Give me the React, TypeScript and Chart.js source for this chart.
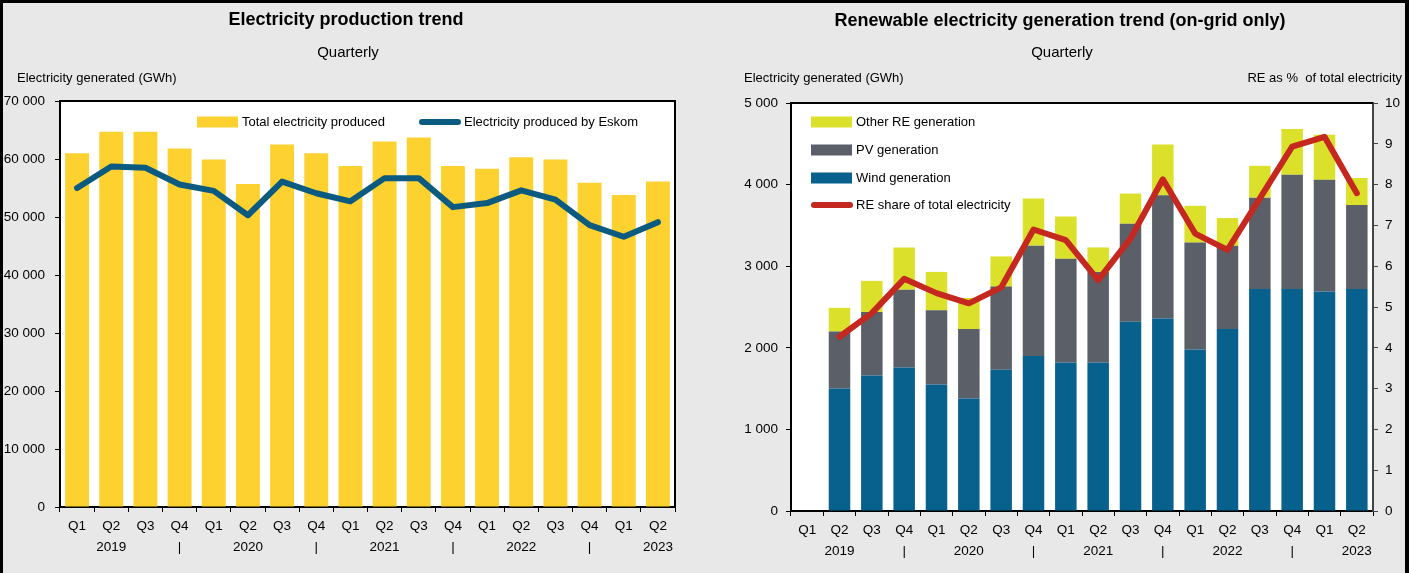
import React, { useEffect, useRef } from "react";
import { Chart, registerables } from "chart.js";

Chart.register(...registerables);

// ---------- DATA ----------
const QUARTERS = ["Q1", "Q2", "Q3", "Q4", "Q1", "Q2", "Q3", "Q4", "Q1", "Q2", "Q3", "Q4", "Q1", "Q2", "Q3", "Q4", "Q1", "Q2"];
const YEAR_ROW = ["", "2019", "", "|", "", "2020", "", "|", "", "2021", "", "|", "", "2022", "", "|", "", "2023"];

const TOTAL_PRODUCED = [61000, 64700, 64700, 61800, 59900, 55700, 62500, 61000, 58800, 63000, 63700, 58800, 58300, 60300, 59900, 55900, 53800, 56100];
const ESKOM_PRODUCED = [55000, 58700, 58500, 55600, 54500, 50300, 56100, 54100, 52700, 56700, 56700, 51700, 52400, 54600, 53000, 48600, 46600, 49100];

const WIND_GEN = [null, 1500, 1660, 1760, 1550, 1380, 1730, 1900, 1820, 1820, 2320, 2360, 1980, 2230, 2720, 2720, 2690, 2720];
const PV_GEN = [null, 700, 780, 950, 910, 850, 1020, 1350, 1270, 1110, 1200, 1510, 1310, 1020, 1120, 1400, 1370, 1030];
const OTHER_RE_GEN = [null, 290, 380, 520, 470, 380, 370, 580, 520, 300, 370, 620, 450, 340, 390, 560, 550, 330];
const RE_SHARE = [null, 4.27, 4.85, 5.69, 5.34, 5.09, 5.48, 6.9, 6.64, 5.66, 6.68, 8.13, 6.8, 6.4, 7.66, 8.93, 9.17, 7.79];

// ---------- STYLE ----------
const FONT = "'Liberation Sans', Arial, Helvetica, sans-serif";
const BG = "#e8e8e8";
const C_TOTAL = "#fdd130";
const C_ESKOM = "#0b5a7f";
const C_WIND = "#08608c";
const C_PV = "#5a5f68";
const C_OTHER = "#dbe02a";
const C_RED = "#c4281f";
const LINE_W = 6;

const LABELS = QUARTERS.map((q, i) => [q, YEAR_ROW[i]]);

const fmtThousands = (v: number) => String(v).replace(/\B(?=(\d{3})+(?!\d))/g, " ");

const panelPlugin = {
  id: "panelDecor",
  beforeDraw(chart: any) {
    const { ctx, chartArea: a } = chart;
    ctx.save();
    ctx.fillStyle = "#ffffff";
    ctx.fillRect(a.left, a.top, a.right - a.left, a.bottom - a.top);
    ctx.restore();
  },
  afterDraw(chart: any, _args: any, opts: any) {
    const { ctx, chartArea: a } = chart;
    ctx.save();
    ctx.strokeStyle = "#000";
    ctx.lineWidth = 2;
    ctx.beginPath();
    ctx.moveTo(a.left, a.top);
    ctx.lineTo(a.right, a.top);
    if (opts.rightFrame) ctx.lineTo(a.right, a.bottom);
    ctx.stroke();

    ctx.fillStyle = "#000";
    ctx.textBaseline = "middle";
    ctx.font = `bold 18px ${FONT}`;
    ctx.textAlign = "center";
    ctx.fillText(opts.title, opts.titleX, opts.titleY);
    ctx.font = `15px ${FONT}`;
    ctx.fillText(opts.subtitle, opts.subX, opts.subY);
    ctx.font = `13px ${FONT}`;
    ctx.textAlign = "left";
    ctx.fillText(opts.leftHeader, opts.leftHeaderX, opts.headerY);
    if (opts.rightHeader) {
      ctx.textAlign = "right";
      ctx.fillText(opts.rightHeader, opts.rightHeaderX, opts.headerY);
    }
    ctx.textAlign = "left";
    ctx.font = `13px ${FONT}`;
    for (const it of opts.legend) {
      const ds = chart.data.datasets[it.ds];
      const x = a.left + it.dx;
      const y = a.top + it.dy;
      if (ds.type === "line") {
        ctx.strokeStyle = ds.borderColor;
        ctx.lineWidth = LINE_W;
        ctx.lineCap = "round";
        ctx.beginPath();
        ctx.moveTo(x + 3, y);
        ctx.lineTo(x + 39, y);
        ctx.stroke();
      } else {
        ctx.fillStyle = ds.backgroundColor;
        ctx.fillRect(x, y - 5.5, 41, 11);
      }
      ctx.fillStyle = "#000";
      ctx.fillText(ds.label, x + 45, y + 0.5);
    }
    ctx.restore();
  },
};

const tickFont = { family: FONT, size: 13.5 };

function xScale(height: number) {
  return {
    type: "category",
    offset: true,
    grid: { display: true, offset: true, drawOnChartArea: false, drawTicks: true, tickLength: 5, color: "#000", lineWidth: 1 },
    border: { display: true, color: "#000", width: 2 },
    ticks: { color: "#000", font: { ...tickFont, lineHeight: 1.6 }, padding: 3, autoSkip: false, maxRotation: 0 },
    afterFit: (s: any) => { s.height = height; },
  };
}

function leftChartConfig(): any {
  return {
    data: {
      labels: LABELS,
      datasets: [
        {
          type: "bar",
          label: "Total electricity produced",
          data: TOTAL_PRODUCED,
          backgroundColor: C_TOTAL,
          borderWidth: 0,
          categoryPercentage: 1,
          barPercentage: 0.7,
          order: 1,
        },
        {
          type: "line",
          label: "Electricity produced by Eskom",
          data: ESKOM_PRODUCED,
          borderColor: C_ESKOM,
          backgroundColor: C_ESKOM,
          borderWidth: LINE_W,
          pointRadius: 0,
          tension: 0,
          borderJoinStyle: "round",
          borderCapStyle: "round",
          order: 0,
        },
      ],
    },
    options: {
      responsive: false,
      animation: false,
      layout: { padding: { left: 0, right: 28, top: 98, bottom: 0 } },
      plugins: {
        legend: { display: false },
        title: { display: false },
        tooltip: { enabled: false },
        panelDecor: {
          rightFrame: true,
          title: "Electricity production trend",
          titleX: 343,
          titleY: 17,
          subtitle: "Quarterly",
          subX: 345,
          subY: 50,
          leftHeader: "Electricity generated (GWh)",
          leftHeaderX: 14,
          headerY: 75,
          legend: [
            { ds: 0, dx: 137, dy: 21 },
            { ds: 1, dx: 359, dy: 21 },
          ],
        },
      },
      scales: {
        x: xScale(66),
        y: {
          type: "linear",
          position: "left",
          min: 0,
          max: 70000,
          grid: { display: true, drawOnChartArea: false, drawTicks: true, tickLength: 5, color: "#000" },
          border: { display: true, color: "#000", width: 2 },
          ticks: { stepSize: 10000, color: "#000", font: tickFont, padding: 10, callback: (v: number) => fmtThousands(v) },
          afterFit: (s: any) => { s.width = 57; },
        },
      },
    },
    plugins: [panelPlugin],
  };
}

function rightChartConfig(): any {
  const bar = (label: string, data: any[], color: string) => ({
    type: "bar",
    label,
    data,
    backgroundColor: color,
    borderWidth: 0,
    categoryPercentage: 1,
    barPercentage: 0.665,
    stack: "re",
    yAxisID: "y",
    order: 1,
  });
  return {
    data: {
      labels: LABELS,
      datasets: [
        bar("Wind generation", WIND_GEN, C_WIND),
        bar("PV generation", PV_GEN, C_PV),
        bar("Other RE generation", OTHER_RE_GEN, C_OTHER),
        {
          type: "line",
          label: "RE share of total electricity",
          data: RE_SHARE,
          yAxisID: "y1",
          borderColor: C_RED,
          backgroundColor: C_RED,
          borderWidth: LINE_W,
          pointRadius: 0,
          tension: 0,
          borderJoinStyle: "round",
          borderCapStyle: "round",
          order: 0,
        },
      ],
    },
    options: {
      responsive: false,
      animation: false,
      layout: { padding: { left: 0, right: 0, top: 100, bottom: 0 } },
      plugins: {
        legend: { display: false },
        title: { display: false },
        tooltip: { enabled: false },
        panelDecor: {
          rightFrame: false,
          title: "Renewable electricity generation trend (on-grid only)",
          titleX: 357,
          titleY: 18,
          subtitle: "Quarterly",
          subX: 359,
          subY: 50,
          leftHeader: "Electricity generated (GWh)",
          leftHeaderX: 41,
          rightHeader: "RE as %  of total electricity",
          rightHeaderX: 699,
          headerY: 75,
          legend: [
            { ds: 2, dx: 20, dy: 19 },
            { ds: 1, dx: 20, dy: 47 },
            { ds: 0, dx: 20, dy: 75 },
            { ds: 3, dx: 20, dy: 102 },
          ],
        },
      },
      scales: {
        x: { ...xScale(62), stacked: true },
        y: {
          type: "linear",
          position: "left",
          stacked: true,
          min: 0,
          max: 5000,
          grid: { display: true, drawOnChartArea: false, drawTicks: true, tickLength: 5, color: "#000" },
          border: { display: true, color: "#000", width: 2 },
          ticks: { stepSize: 1000, color: "#000", font: tickFont, padding: 8, callback: (v: number) => fmtThousands(v) },
          afterFit: (s: any) => { s.width = 88; },
        },
        y1: {
          type: "linear",
          position: "right",
          min: 0,
          max: 10,
          grid: { display: true, drawOnChartArea: false, drawTicks: true, tickLength: 5, color: "#444" },
          border: { display: true, color: "#444", width: 2 },
          ticks: { stepSize: 1, color: "#000", font: tickFont, padding: 7 },
          afterFit: (s: any) => { s.width = 32; },
        },
      },
    },
    plugins: [panelPlugin],
  };
}

function ChartCanvas({ config, width, height, left }: { config: () => any; width: number; height: number; left: number }) {
  const ref = useRef<HTMLCanvasElement | null>(null);
  useEffect(() => {
    if (!ref.current) return;
    const chart = new Chart(ref.current, config());
    return () => chart.destroy();
  }, [config]);
  return (
    <canvas
      ref={ref}
      width={width}
      height={height}
      style={{ position: "absolute", left, top: 0, width, height, display: "block" }}
    />
  );
}

export default function App() {
  return (
    <div
      style={{
        position: "fixed",
        left: 0,
        top: 0,
        width: 1409,
        height: 573,
        boxSizing: "border-box",
        background: BG,
        borderTop: "3px solid #000",
        borderLeft: "3px solid #000",
        borderRight: "4px solid #000",
        overflow: "hidden",
      }}
    >
      <ChartCanvas config={leftChartConfig} width={700} height={570} left={0} />
      <ChartCanvas config={rightChartConfig} width={702} height={570} left={700} />
    </div>
  );
}
